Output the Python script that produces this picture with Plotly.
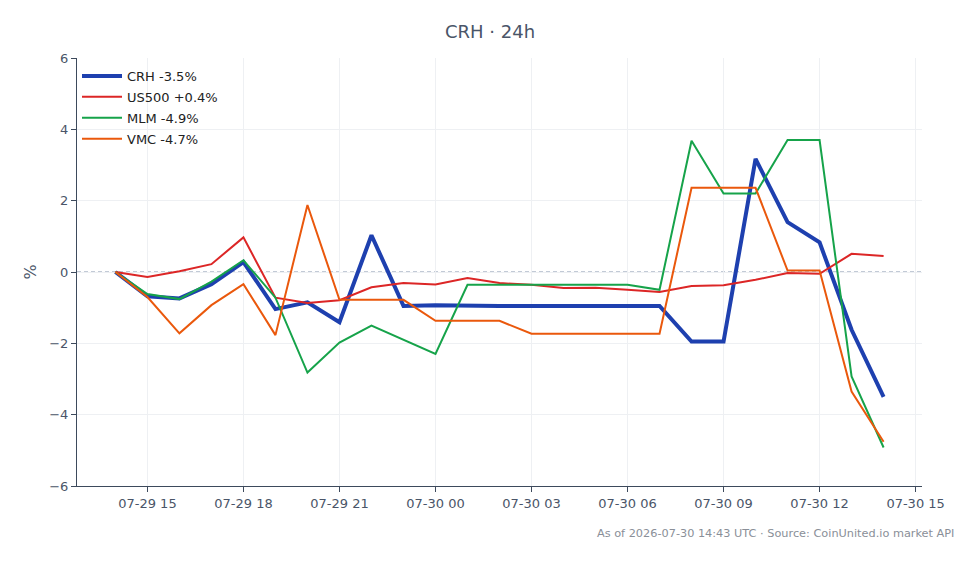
import plotly.graph_objects as go
import pandas as pd

times = pd.date_range("2026-07-29 14:00", "2026-07-30 14:00", freq="1h")

crh = [0.0, -0.68, -0.74, -0.34, 0.28, -1.04, -0.85, -1.41, 1.03, -0.95, -0.93,
       -0.95, -0.95, -0.95, -0.95, -0.95, -0.95, -0.95, -1.95, -1.95, 3.17, 1.40,
       0.83, -1.62, -3.5]
us500 = [0.0, -0.14, 0.02, 0.22, 0.97, -0.72, -0.87, -0.79, -0.43, -0.31, -0.35,
         -0.17, -0.31, -0.36, -0.45, -0.44, -0.5, -0.56, -0.39, -0.37, -0.22, -0.03,
         -0.05, 0.51, 0.45]
mlm = [0.0, -0.62, -0.76, -0.27, 0.33, -0.72, -2.82, -1.98, -1.5, -1.9, -2.3,
       -0.36, -0.36, -0.36, -0.36, -0.36, -0.36, -0.5, 3.68, 2.2, 2.2, 3.7,
       3.7, -2.93, -4.92]
vmc = [0.0, -0.7, -1.72, -0.93, -0.34, -1.77, 1.88, -0.78, -0.78, -0.78, -1.37,
       -1.37, -1.37, -1.73, -1.73, -1.73, -1.73, -1.73, 2.36, 2.36, 2.36, 0.04,
       0.04, -3.35, -4.76]

series = [
    ("CRH -3.5%", crh, "#1e40af", 4),
    ("US500 +0.4%", us500, "#dc2626", 2),
    ("MLM -4.9%", mlm, "#16a34a", 2),
    ("VMC -4.7%", vmc, "#ea580c", 2),
]

fig = go.Figure()
for i, (name, vals, color, w) in enumerate(series):
    fig.add_trace(go.Scatter(x=times, y=vals, mode="lines", name=name,
                             legendgroup=f"g{i}",
                             line=dict(color=color, width=w)))

pad = pd.Timedelta(minutes=72)
fig.add_shape(type="line", xref="paper", x0=0, x1=1, yref="y", y0=0, y1=0,
              line=dict(color="#8596ae", width=1.2, dash="4px,3px"), layer="between")

fig.update_layout(
    width=980, height=564,
    margin=dict(l=77, r=58, t=58, b=78),
    paper_bgcolor="white", plot_bgcolor="white",
    font=dict(family="DejaVu Sans", color="#4a5568", size=13),
    title=dict(text="CRH · 24h", x=0.5, xanchor="center", y=0.943, yanchor="middle",
               font=dict(size=18, color="#4a5568")),
    legend=dict(x=0.0, y=0.993, xanchor="left", yanchor="top",
                bgcolor="rgba(255,255,255,0)", font=dict(size=13, color="#222"),
                tracegroupgap=1, borderwidth=0, itemwidth=40),
    showlegend=True,
    xaxis=dict(range=[times[0] - pad, times[-1] + pad], tickformat="%m-%d %H",
               dtick=3 * 3600 * 1000, tick0="2026-07-29 15:00",
               showline=True, linecolor="#3d4a5c", linewidth=1,
               ticks="outside", ticklen=5, tickcolor="#3d4a5c",
               showgrid=True, gridcolor="#eef0f3", zeroline=False),
    yaxis=dict(range=[-6, 6], dtick=2, title=dict(text="%", standoff=8),
               showline=True, linecolor="#3d4a5c", linewidth=1,
               ticks="outside", ticklen=5, tickcolor="#3d4a5c",
               showgrid=True, gridcolor="#eef0f3", zeroline=False),
    annotations=[dict(text="As of 2026-07-30 14:43 UTC · Source: CoinUnited.io market API",
                      xref="paper", yref="paper", x=1.04, y=-0.11,
                      xanchor="right", yanchor="middle", showarrow=False,
                      font=dict(size=11.3, color="#8a8f98"))],
)

fig.write_html("out.html")
